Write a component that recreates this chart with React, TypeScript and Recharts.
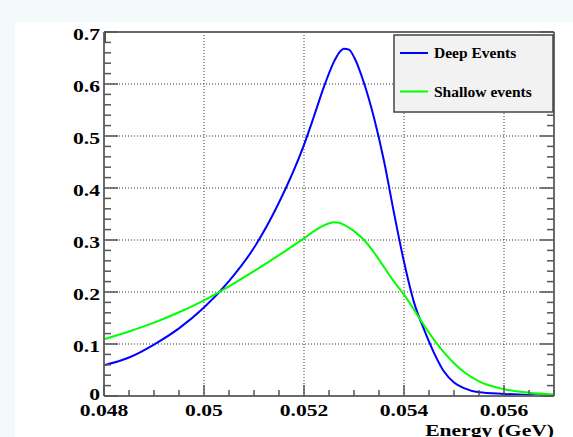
import React from 'react';
import { LineChart, Line, XAxis, YAxis, ReferenceLine } from 'recharts';

// values
const energy = [
  0.048, 0.0485, 0.049, 0.0495, 0.05, 0.0505, 0.051, 0.0515, 0.052, 0.0522,
  0.0524, 0.0526, 0.0527, 0.0528, 0.0529, 0.053, 0.0532, 0.0534, 0.0536, 0.0538,
  0.054, 0.0542, 0.0544, 0.0546, 0.0548, 0.055, 0.0552, 0.0555, 0.056, 0.0565, 0.057,
];
const deepEvents = [
  0.059, 0.074, 0.099, 0.13, 0.17, 0.221, 0.285, 0.372, 0.483, 0.538,
  0.595, 0.643, 0.66, 0.668, 0.666, 0.652, 0.602, 0.535, 0.452, 0.352,
  0.258, 0.18, 0.128, 0.083, 0.047, 0.026, 0.015, 0.007, 0.004, 0.002, 0.001,
];
const shallowEvents = [
  0.109, 0.124, 0.141, 0.161, 0.184, 0.211, 0.24, 0.271, 0.303, 0.317,
  0.328, 0.334, 0.333, 0.329, 0.324, 0.317, 0.3, 0.276, 0.248, 0.22,
  0.195, 0.166, 0.136, 0.108, 0.084, 0.063, 0.046, 0.028, 0.013, 0.0064, 0.003,
];

const seriesNames = ['Deep Events', 'Shallow events'];
const seriesColors = ['#0000ff', '#00ff00'];

const xMajorTicks = [0.048, 0.05, 0.052, 0.054, 0.056];
const yMajorTicks = [0, 0.1, 0.2, 0.3, 0.4, 0.5, 0.6, 0.7];
const xDomain = [0.048, 0.057];
const yDomain = [0, 0.7];
const xTitle = 'Energy (GeV)';

const data = energy.map((e, i) => ({ e, deep: deepEvents[i], shallow: shallowEvents[i] }));

// tick positions between the domain ends
const subdivide = (lo: number, hi: number, step: number) => {
  const out: number[] = [];
  const n = Math.round((hi - lo) / step);
  for (let i = 0; i <= n; i++) out.push(Math.round((lo + i * step) * 1e6) / 1e6);
  return out;
};
const xTicks = subdivide(xDomain[0], xDomain[1], 0.0005);
const yTicks = subdivide(yDomain[0], yDomain[1], 0.02);

const isMajor = (v: number, majors: number[]) => majors.some(m => Math.abs(m - v) < 1e-7);

const font = "'Liberation Serif', 'Times New Roman', serif";
const axisColor = '#6b6b6b';
const tickColor = '#555';
const stretch = 'scale(1.27,1)';

const BottomTick = (props: any) => {
  const { x, y, payload } = props;
  const major = isMajor(payload.value, xMajorTicks);
  return (
    <g>
      <line x1={x} x2={x} y1={y} y2={y - (major ? 11 : 6)} stroke={tickColor} strokeWidth={1.5} />
      {major && (
        <text transform={`translate(${x},${y + 20}) ${stretch}`} textAnchor="middle"
          fontFamily={font} fontWeight="bold" fontSize={17} fill="#000">
          {String(payload.value)}
        </text>
      )}
    </g>
  );
};

const TopTick = (props: any) => {
  const { x, y, payload } = props;
  const major = isMajor(payload.value, xMajorTicks);
  return <line x1={x} x2={x} y1={y} y2={y + (major ? 11 : 6)} stroke={tickColor} strokeWidth={1.5} />;
};

const LeftTick = (props: any) => {
  const { x, y, payload } = props;
  const major = isMajor(payload.value, yMajorTicks);
  const dy = payload.value === 0 ? 4 : 7.5;
  return (
    <g>
      <line x1={x} x2={x + (major ? 14 : 7)} y1={y} y2={y} stroke={tickColor} strokeWidth={1.5} />
      {major && (
        <text transform={`translate(${x - 4},${y + dy}) ${stretch}`} textAnchor="end"
          fontFamily={font} fontWeight="bold" fontSize={17} fill="#000">
          {String(payload.value)}
        </text>
      )}
    </g>
  );
};

const RightTick = (props: any) => {
  const { x, y, payload } = props;
  const major = isMajor(payload.value, yMajorTicks);
  return <line x1={x} x2={x - (major ? 14 : 7)} y1={y} y2={y} stroke={tickColor} strokeWidth={1.5} />;
};

const AxisTitle = (props: any) => {
  const vb = props.viewBox || {};
  return (
    <text transform={`translate(${vb.x + vb.width},${vb.y + 40}) ${stretch}`} textAnchor="end"
      fontFamily={font} fontWeight="bold" fontSize={17} fill="#000">
      {xTitle}
    </text>
  );
};

const LegendBox = () => (
  <svg width={573} height={437} style={{ position: 'absolute', left: 0, top: 0, pointerEvents: 'none' }}>
    <rect x={394} y={35} width={159} height={77} fill="#f2f2f2" stroke="#444" strokeWidth={1.5} />
    {seriesNames.map((name, i) => (
      <g key={name}>
        <line x1={400} x2={428} y1={53 + i * 38.5} y2={53 + i * 38.5} stroke={seriesColors[i]} strokeWidth={2} />
        <text x={434} y={57.5 + i * 39} fontFamily={font} fontWeight="bold" fontSize={15.5} fill="#000">
          {name}
        </text>
      </g>
    ))}
  </svg>
);

export default function App() {
  return (
    <div style={{ position: 'absolute', left: 0, top: 0, width: 573, height: 437, background: '#f4f9fb', overflow: 'hidden' }}>
      <div style={{ position: 'absolute', left: 15, top: 22, width: 558, height: 415, background: '#fff' }} />
      <div style={{ position: 'absolute', left: 0, top: 0 }}>
        <LineChart width={573} height={437} data={data} margin={{ top: 31, right: 18, bottom: 40, left: 103 }}>
          <XAxis dataKey="e" type="number" domain={xDomain} allowDataOverflow ticks={xTicks} interval={0}
            height={1} tickSize={0} tickMargin={0} tick={<BottomTick />} tickLine={false}
            axisLine={{ stroke: axisColor, strokeWidth: 2 }} label={AxisTitle} />
          <XAxis xAxisId="top" orientation="top" type="number" domain={xDomain} allowDataOverflow ticks={xTicks}
            interval={0} height={1} tickSize={0} tickMargin={0} tick={<TopTick />} tickLine={false}
            axisLine={{ stroke: axisColor, strokeWidth: 2 }} />
          <YAxis type="number" domain={yDomain} allowDataOverflow ticks={yTicks} interval={0} width={1}
            tickSize={0} tickMargin={0} tick={<LeftTick />} tickLine={false}
            axisLine={{ stroke: axisColor, strokeWidth: 2 }} />
          <YAxis yAxisId="right" orientation="right" type="number" domain={yDomain} allowDataOverflow ticks={yTicks}
            interval={0} width={1} tickSize={0} tickMargin={0} tick={<RightTick />} tickLine={false}
            axisLine={{ stroke: axisColor, strokeWidth: 2 }} />
          {xMajorTicks.slice(1).map(v => (
            <ReferenceLine key={'gx' + v} x={v} stroke="#333" strokeDasharray="1 2" strokeWidth={1} />
          ))}
          {yMajorTicks.slice(1, -1).map(v => (
            <ReferenceLine key={'gy' + v} y={v} stroke="#333" strokeDasharray="1 2" strokeWidth={1} />
          ))}
          <Line type="monotone" dataKey="deep" name={seriesNames[0]} stroke={seriesColors[0]} strokeWidth={2}
            dot={false} isAnimationActive={false} />
          <Line type="monotone" dataKey="shallow" name={seriesNames[1]} stroke={seriesColors[1]} strokeWidth={2}
            dot={false} isAnimationActive={false} />
        </LineChart>
      </div>
      <LegendBox />
    </div>
  );
}
